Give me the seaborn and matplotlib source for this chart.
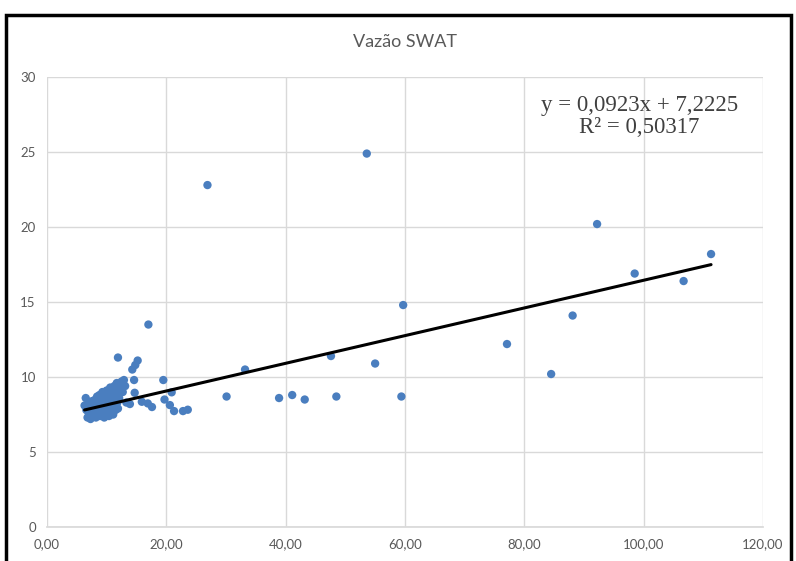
#!/usr/bin/env python3
"""
Vazão SWAT scatter with linear trendline.
Outputs: out.png
"""
import numpy as np
import pandas as pd
import matplotlib.pyplot as plt
from matplotlib.patches import Rectangle
from matplotlib.ticker import FuncFormatter
import seaborn as sns

vazao_obs = [
    6.3, 6.5, 6.6, 6.8, 7.0, 7.1, 7.2, 7.3, 7.5, 7.6, 7.8, 7.9, 8.0, 8.1, 8.2,
    8.3, 8.4, 8.5, 8.6, 8.7, 8.8, 8.9, 9.0, 9.1, 9.2, 9.3, 9.4, 9.5, 9.6, 9.7,
    9.8, 9.9, 10.0, 10.1, 10.2, 10.3, 10.4, 10.5, 10.6, 10.7, 10.8, 10.9, 11.0,
    11.1, 11.2, 11.3, 11.4, 11.5, 11.6, 11.7, 11.8, 11.9, 12.0, 12.1, 12.3,
    12.5, 12.7, 12.9, 13.1, 9.6, 8.0, 7.4, 10.4, 11.0,
    11.9, 13.3, 13.9, 14.3, 14.6, 14.7, 14.8, 15.2, 15.9, 16.9, 17.0, 17.6,
    19.5, 19.7, 20.6, 20.9, 21.3, 22.8, 23.6, 26.9, 30.1, 33.2, 38.9, 41.1,
    43.2, 47.6, 48.5, 53.6, 55.0, 59.4, 59.7, 77.1, 84.5, 88.1, 92.2, 98.5,
    106.7, 111.3,
]
vazao_swat = [
    8.1, 8.6, 7.8, 7.3, 7.6, 8.0, 8.3, 7.2, 7.9, 8.4, 7.5, 8.1, 7.7, 8.5, 7.3,
    8.0, 8.7, 7.6, 8.3, 7.9, 8.8, 7.4, 8.2, 8.6, 7.7, 9.0, 8.0, 8.4, 7.3, 8.8,
    7.9, 8.5, 9.1, 7.6, 8.2, 8.9, 7.4, 8.6, 9.3, 8.0, 7.7, 8.4, 9.0,
    7.5, 8.7, 9.4, 8.1, 7.8, 8.9, 9.6, 8.3, 7.9, 9.2, 8.6, 9.5,
    9.7, 9.0, 9.8, 9.4, 8.0, 8.3, 8.2, 7.9, 8.6,
    11.3, 8.3, 8.2, 10.5, 9.8, 8.95, 10.8, 11.1, 8.35, 8.24, 13.5, 8.0,
    9.8, 8.5, 8.13, 8.98, 7.73, 7.73, 7.82, 22.8, 8.7, 10.5, 8.6, 8.8,
    8.5, 11.4, 8.7, 24.9, 10.9, 8.7, 14.8, 12.2, 10.2, 14.1, 20.2, 16.9,
    16.4, 18.2,
]

# Trendline reported on the chart
slope = 0.0923
intercept = 7.2225
r2 = 0.50317

title = "Vazão SWAT"
x_ticks = [0, 20, 40, 60, 80, 100, 120]
y_ticks = [0, 5, 10, 15, 20, 25, 30]

POINT_COLOR = "#4a7ebf"
GRID_COLOR = "#d9d9d9"
TEXT_COLOR = "#595959"

sns.set_theme(style="white")
plt.rcParams["font.family"] = ["Lato", "DejaVu Sans"]

df = pd.DataFrame({"obs": vazao_obs, "swat": vazao_swat})
x_fit = np.array([df["obs"].min(), df["obs"].max()])
fit = pd.DataFrame({"obs": x_fit, "swat": slope * x_fit + intercept})

fig = plt.figure(figsize=(7.96, 5.61), dpi=100)
ax = fig.add_axes([0.059, 0.0606, 0.8995, 0.802])

sns.scatterplot(data=df, x="obs", y="swat", ax=ax, color=POINT_COLOR,
                s=36, edgecolor="none", zorder=3)
sns.lineplot(data=fit, x="obs", y="swat", ax=ax, color="black",
             linewidth=2.2, zorder=4)

ax.set_xlim(x_ticks[0], x_ticks[-1])
ax.set_ylim(y_ticks[0], y_ticks[-1])
ax.set_xticks(x_ticks)
ax.set_yticks(y_ticks)
ax.xaxis.set_major_formatter(FuncFormatter(lambda v, _: f"{v:.2f}".replace(".", ",")))
ax.grid(True, color=GRID_COLOR, linewidth=1.0)
ax.set_axisbelow(True)
ax.set_xlabel("")
ax.set_ylabel("")
for side in ["top", "right", "left"]:
    ax.spines[side].set_visible(False)
ax.spines["bottom"].set_color(GRID_COLOR)
ax.tick_params(axis="both", length=0, labelsize=9.5, labelcolor=TEXT_COLOR, pad=8)

ax.set_title(title, fontsize=13, color=TEXT_COLOR, pad=22)

ax.text(0.827, 0.96,
        f"y = {slope:.4f}x + {intercept:.4f}".replace(".", ",") + "\n" +
        f"R² = {r2:.5f}".replace(".", ","),
        transform=ax.transAxes, ha="center", va="top", fontsize=16.5,
        color="#404040", family="Liberation Serif", linespacing=1.05)

# Chart frame as in the source screenshot
fig.patches.append(Rectangle((0.008, -0.05), 0.986, 1.023, transform=fig.transFigure,
                             fill=False, edgecolor="black", linewidth=2.5))

fig.savefig("out.png", dpi=100)
plt.close(fig)
